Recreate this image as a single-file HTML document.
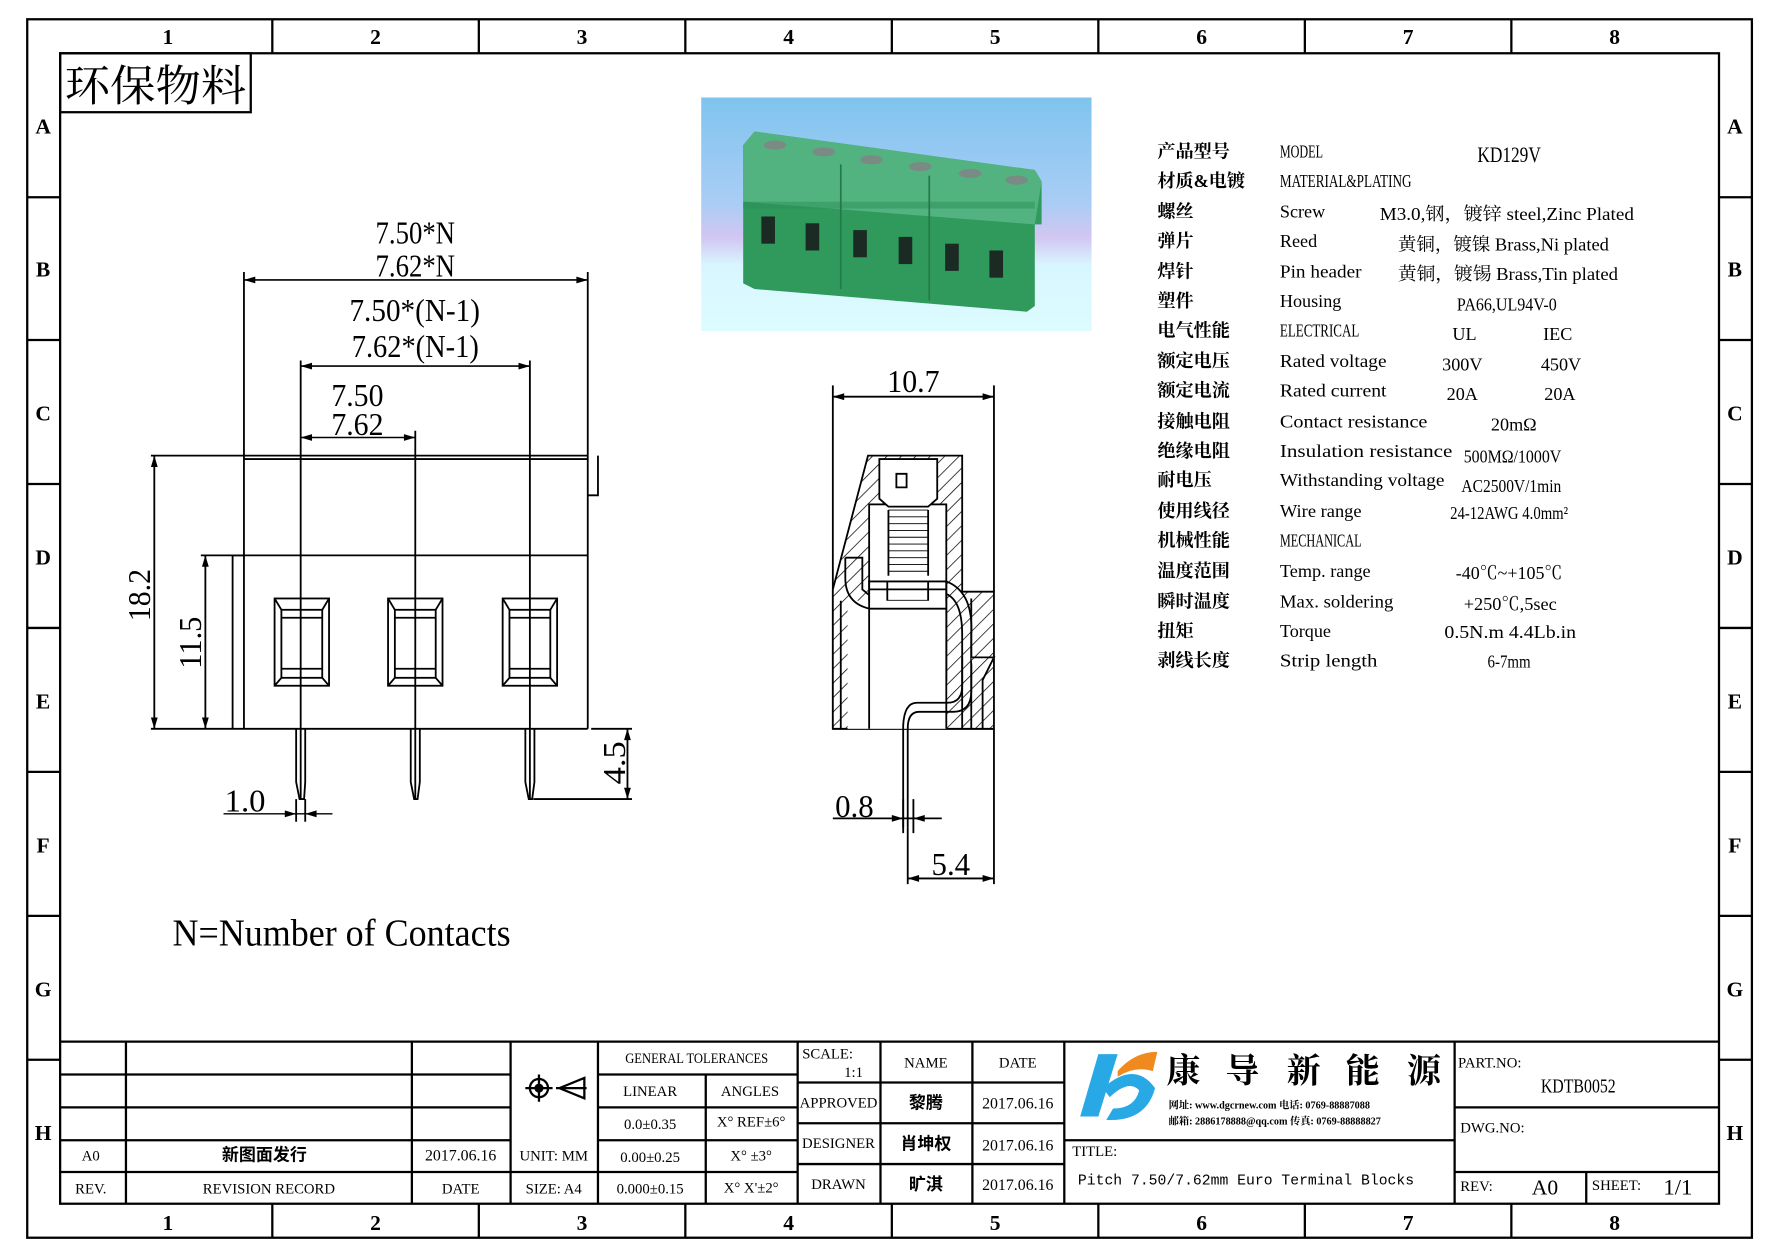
<!DOCTYPE html>
<html><head><meta charset="utf-8"><style>
html,body{margin:0;padding:0;background:#fff;}
svg{display:block;}
text{font-family:"Liberation Serif","Noto Serif CJK SC","Noto Sans CJK SC",serif;fill:#000;}
.cn{font-family:"Liberation Sans","Noto Sans CJK SC",sans-serif;font-weight:bold;}
.m{font-family:"Liberation Mono","Noto Sans CJK SC",monospace;}
</style></head><body>
<svg width="1778" height="1257" viewBox="0 0 1567 1109" preserveAspectRatio="none" xmlns="http://www.w3.org/2000/svg">
<defs>
<pattern id="h" width="9" height="9" patternUnits="userSpaceOnUse" patternTransform="rotate(45)">
<rect width="9" height="9" fill="#fff"/><line x1="0" y1="0" x2="0" y2="9" stroke="#000" stroke-width="1.3"/></pattern>
<linearGradient id="bg" x1="0" y1="0" x2="0" y2="1">
<stop offset="0" stop-color="#7fc4ee"/><stop offset="0.45" stop-color="#a9cdf5"/><stop offset="0.6" stop-color="#d2c6f2"/><stop offset="0.72" stop-color="#d8f6ff"/><stop offset="1" stop-color="#dcfcff"/></linearGradient>
</defs>
<g fill="none" stroke="#000" stroke-width="2">
<rect x="24" y="17" width="1520" height="1075"/>
<rect x="53" y="47" width="1462" height="1015"/>
<path d="M240 17V47M422 17V47M604 17V47M786 17V47M968 17V47M1150 17V47M1332 17V47
M240 1062V1092M422 1062V1092M604 1062V1092M786 1062V1092M968 1062V1092M1150 1062V1092M1332 1062V1092
M24 174H53M24 300H53M24 427H53M24 554H53M24 681H53M24 808H53M24 935H53
M1515 174H1544M1515 300H1544M1515 427H1544M1515 554H1544M1515 681H1544M1515 808H1544M1515 935H1544"/>
<rect x="53" y="47" width="168" height="52"/>
</g>
<g font-size="19" font-weight="bold" text-anchor="middle" class="m">
<text x="148" y="39">1</text><text x="331" y="39">2</text><text x="513" y="39">3</text><text x="695" y="39">4</text><text x="877" y="39">5</text><text x="1059" y="39">6</text><text x="1241" y="39">7</text><text x="1423" y="39">8</text>
<text x="148" y="1085">1</text><text x="331" y="1085">2</text><text x="513" y="1085">3</text><text x="695" y="1085">4</text><text x="877" y="1085">5</text><text x="1059" y="1085">6</text><text x="1241" y="1085">7</text><text x="1423" y="1085">8</text>
<text x="38" y="118">A</text><text x="38" y="244">B</text><text x="38" y="371">C</text><text x="38" y="498">D</text><text x="38" y="625">E</text><text x="38" y="752">F</text><text x="38" y="879">G</text><text x="38" y="1006">H</text>
<text x="1529" y="118">A</text><text x="1529" y="244">B</text><text x="1529" y="371">C</text><text x="1529" y="498">D</text><text x="1529" y="625">E</text><text x="1529" y="752">F</text><text x="1529" y="879">G</text><text x="1529" y="1006">H</text>
</g>
<text x="57" y="89" font-size="38" textLength="160" lengthAdjust="spacingAndGlyphs" style="font-family:'Noto Serif CJK SC',serif">环保物料</text>

<rect x="618" y="86" width="344" height="206" fill="url(#bg)"/>
<polygon points="655,128 665,116 912,150 918,160 918,198 912,198 912,270 905,275 665,255 655,250" fill="#2f9a5c"/>
<polygon points="655,128 665,116 912,150 918,160 912,198 655,178" fill="#52b381"/>
<g fill="#2a8e55"><rect x="655" y="178" width="257" height="6" opacity="0.5"/></g>
<g fill="#1c2a24">
<rect x="671" y="191" width="12" height="24"/><rect x="710" y="197" width="12" height="24"/><rect x="752" y="203" width="12" height="24"/><rect x="792" y="209" width="12" height="24"/><rect x="833" y="215" width="12" height="24"/><rect x="872" y="221" width="12" height="24"/>
</g>
<g fill="#7a8a84"><ellipse cx="683" cy="128" rx="10" ry="4"/><ellipse cx="726" cy="134" rx="10" ry="4"/><ellipse cx="768" cy="141" rx="10" ry="4"/><ellipse cx="811" cy="147" rx="10" ry="4"/><ellipse cx="855" cy="153" rx="10" ry="4"/><ellipse cx="896" cy="159" rx="10" ry="4"/></g>
<path d="M741 145V255M819 155V265" stroke="#237a48" stroke-width="1.5"/>

<g font-size="16">
<g class="cn" font-size="16">
<text x="1020" y="139">产品型号</text><text x="1020" y="165">材质&amp;电镀</text><text x="1020" y="192">螺丝</text><text x="1020" y="218">弹片</text><text x="1020" y="245">焊针</text><text x="1020" y="271">塑件</text><text x="1020" y="297">电气性能</text><text x="1020" y="324">额定电压</text><text x="1020" y="350">额定电流</text><text x="1020" y="377">接触电阻</text><text x="1020" y="403">绝缘电阻</text><text x="1020" y="429">耐电压</text><text x="1020" y="456">使用线径</text><text x="1020" y="482">机械性能</text><text x="1020" y="509">温度范围</text><text x="1020" y="536">瞬时温度</text><text x="1020" y="562">扭矩</text><text x="1020" y="588">剥线长度</text>
</g>
<text x="1128" y="139" textLength="38" lengthAdjust="spacingAndGlyphs">MODEL</text>
<text x="1302" y="143" font-size="20" textLength="56" lengthAdjust="spacingAndGlyphs">KD129V</text>
<text x="1128" y="165" textLength="116" lengthAdjust="spacingAndGlyphs">MATERIAL&amp;PLATING</text>
<text x="1128" y="192">Screw</text><text x="1216" y="194" textLength="224" lengthAdjust="spacingAndGlyphs">M3.0,钢，镀锌 steel,Zinc Plated</text>
<text x="1128" y="218">Reed</text><text x="1232" y="221" textLength="186" lengthAdjust="spacingAndGlyphs">黄铜，镀镍 Brass,Ni plated</text>
<text x="1128" y="245" textLength="72" lengthAdjust="spacingAndGlyphs">Pin header</text><text x="1232" y="247" textLength="194" lengthAdjust="spacingAndGlyphs">黄铜，镀锡 Brass,Tin plated</text>
<text x="1128" y="271">Housing</text><text x="1284" y="274" textLength="88" lengthAdjust="spacingAndGlyphs">PA66,UL94V-0</text>
<text x="1128" y="297" textLength="70" lengthAdjust="spacingAndGlyphs">ELECTRICAL</text><text x="1280" y="300">UL</text><text x="1360" y="300">IEC</text>
<text x="1128" y="324" textLength="94" lengthAdjust="spacingAndGlyphs">Rated voltage</text><text x="1271" y="327">300V</text><text x="1358" y="327">450V</text>
<text x="1128" y="350" textLength="94" lengthAdjust="spacingAndGlyphs">Rated current</text><text x="1275" y="353">20A</text><text x="1361" y="353">20A</text>
<text x="1128" y="377" textLength="130" lengthAdjust="spacingAndGlyphs">Contact resistance</text><text x="1314" y="380">20mΩ</text>
<text x="1128" y="403" textLength="152" lengthAdjust="spacingAndGlyphs">Insulation resistance</text><text x="1290" y="408" textLength="86" lengthAdjust="spacingAndGlyphs">500MΩ/1000V</text>
<text x="1128" y="429" textLength="145" lengthAdjust="spacingAndGlyphs">Withstanding voltage</text><text x="1288" y="434" textLength="88" lengthAdjust="spacingAndGlyphs">AC2500V/1min</text>
<text x="1128" y="456" textLength="72" lengthAdjust="spacingAndGlyphs">Wire range</text><text x="1278" y="458" textLength="104" lengthAdjust="spacingAndGlyphs">24-12AWG 4.0mm²</text>
<text x="1128" y="482" textLength="72" lengthAdjust="spacingAndGlyphs">MECHANICAL</text>
<text x="1128" y="509" textLength="80" lengthAdjust="spacingAndGlyphs">Temp. range</text><text x="1283" y="511" textLength="94" lengthAdjust="spacingAndGlyphs">-40℃~+105℃</text>
<text x="1128" y="536" textLength="100" lengthAdjust="spacingAndGlyphs">Max. soldering</text><text x="1290" y="538" textLength="82" lengthAdjust="spacingAndGlyphs">+250℃,5sec</text>
<text x="1128" y="562">Torque</text><text x="1273" y="563" textLength="116" lengthAdjust="spacingAndGlyphs">0.5N.m  4.4Lb.in</text>
<text x="1128" y="588" textLength="86" lengthAdjust="spacingAndGlyphs">Strip length</text><text x="1311" y="589" textLength="38" lengthAdjust="spacingAndGlyphs">6-7mm</text>
</g>

<g fill="none" stroke="#000" stroke-width="1.6">
<path d="M215 240V643M518 240V402M265 318V705M467 318V705M366 380V705"/>
<path d="M215 247H518M265 323H467M265 386H366" stroke-width="1.4"/>
<path d="M133 402H518M215 405H518M518 402V643M205 490H518M205 490V643M133 643H518M527 402V437H518"/>
<path d="M136 402V643M181 490V643M177 490H215M553 643V705M521 643H557M470 705H557"/>
<path d="M261 643V690L264 705H268L269 690V643M362 643V690L365 705H368L370 690V643M463 643V690L466 705H469L471 690V643"/>
<path d="M197 718H293" stroke-width="1.3"/>
<path d="M261 705V725M269 705V725"/>
<g>
<rect x="242" y="528" width="48" height="77"/><rect x="248" y="538" width="36" height="60"/><path d="M242 528L248 538M290 528L284 538M242 605L248 598M290 605L284 598M248 545H284M248 590H284"/>
<rect x="342" y="528" width="48" height="77"/><rect x="348" y="538" width="36" height="60"/><path d="M342 528L348 538M390 528L384 538M342 605L348 598M390 605L384 598M348 545H384M348 590H384"/>
<rect x="443" y="528" width="48" height="77"/><rect x="449" y="538" width="36" height="60"/><path d="M443 528L449 538M491 528L485 538M443 605L449 598M491 605L485 598M449 545H485M449 590H485"/>
</g>
</g>
<g fill="#000">
<path d="M215 247l10 -3v6zM518 247l-10 -3v6zM265 323l10 -3v6zM467 323l-10 -3v6zM265 386l10 -3v6zM366 386l-10 -3v6z"/>
<path d="M136 402l-3 10h6zM136 643l-3 -10h6zM181 490l-3 10h6zM181 643l-3 -10h6zM553 643l-3 10h6zM553 705l-3 -10h6zM261 718l-10 -3v6zM269 718l10 -3v6z"/>
</g>
<g font-size="28">
<text x="331" y="215" textLength="70" lengthAdjust="spacingAndGlyphs">7.50*N</text>
<text x="331" y="244" textLength="70" lengthAdjust="spacingAndGlyphs">7.62*N</text>
<text x="308" y="283" textLength="115" lengthAdjust="spacingAndGlyphs">7.50*(N-1)</text>
<text x="310" y="315" textLength="112" lengthAdjust="spacingAndGlyphs">7.62*(N-1)</text>
<text x="292" y="358" textLength="46" lengthAdjust="spacingAndGlyphs">7.50</text>
<text x="292" y="384" textLength="46" lengthAdjust="spacingAndGlyphs">7.62</text>
<text transform="translate(132,548) rotate(-90)" textLength="46" lengthAdjust="spacingAndGlyphs">18.2</text>
<text transform="translate(177,590) rotate(-90)" textLength="46" lengthAdjust="spacingAndGlyphs">11.5</text>
<text transform="translate(551,692) rotate(-90)" textLength="38" lengthAdjust="spacingAndGlyphs">4.5</text>
<text x="198" y="716" textLength="36" lengthAdjust="spacingAndGlyphs">1.0</text>
<text x="152" y="834" font-size="34" textLength="298" lengthAdjust="spacingAndGlyphs">N=Number of Contacts</text>
<text x="782" y="346" textLength="46" lengthAdjust="spacingAndGlyphs">10.7</text>
<text x="736" y="721" textLength="34" lengthAdjust="spacingAndGlyphs">0.8</text>
<text x="821" y="772" textLength="34" lengthAdjust="spacingAndGlyphs">5.4</text>
</g>

<g fill="none" stroke="#000" stroke-width="1.6">
<path d="M734 340V643M876 340V522M876 643V780M734 350H876M800 730V780M800 775H876M734 722H830M796 705V735M805 705V735"/>
<path d="M734 643H876"/>
<path d="M734 643V520L765 402H848L848 522H876V643Z" fill="url(#h)"/>
<rect x="766" y="445" width="68" height="68" fill="#fff"/>
<path d="M775 405H826V440L818 447H783L775 440Z" fill="#fff"/>
<path d="M790 418H799V430H790Z"/>
<path d="M783 450H818M783 456H818M783 462H818M783 468H818M783 474H818M783 480H818M783 486H818M783 492H818M783 498H818M783 504H818" stroke-width="0.8"/>
<path d="M783 450V508M818 450V508"/>
<rect x="766" y="513" width="68" height="87" fill="#fff"/>
<path d="M766 520H834M766 588H834M782 513V530H818V513"/>
<rect x="747" y="530" width="87" height="113" fill="#fff" stroke="none"/>
<path d="M745 492H760V520L766 525M745 492V510Q745 532 766 537H834M834 513Q858 522 856 560V610Q856 628 840 628H810Q800 628 800 643V730M834 524Q848 530 848 560V605Q848 620 835 620H808Q797 620 796 640V730"/>
<path d="M766 513V643M834 513V643M741 530V643M856 528V643M848 580V643"/>
<path d="M856 580H876L866 600V643" fill="url(#h)"/>
</g>
<g fill="#000"><path d="M734 350l10 -3v6zM876 350l-10 -3v6zM796 722l-10 -3v6zM805 722l10 -3v6zM800 775l10 -3v6zM876 775l-10 -3v6z"/></g>

<g fill="none" stroke="#000" stroke-width="2">
<path d="M53 919H1515M53 948H450M53 977H450M53 1006H450M53 1034H703M527 948H703M527 977H703M527 1006H703M703 955H938M703 991H938M703 1027H938M938 1006H1282M1282 977H1515M1282 1034H1515"/>
<path d="M111 919V1062M363 919V1062M450 919V1062M527 919V1062M622 948V1062M703 919V1062M776 919V1062M857 919V1062M938 919V1062M1282 919V1062M1398 1034V1062"/>
</g>
<g font-size="13" text-anchor="middle">
<text x="614" y="938" textLength="126" lengthAdjust="spacingAndGlyphs">GENERAL TOLERANCES</text>
<text x="573" y="967">LINEAR</text><text x="661" y="967">ANGLES</text>
<text x="573" y="996">0.0±0.35</text><text x="662" y="994">X° REF±6°</text>
<text x="573" y="1025">0.00±0.25</text><text x="662" y="1024">X° ±3°</text>
<text x="573" y="1053">0.000±0.15</text><text x="662" y="1052">X° X'±2°</text>
<text x="488" y="1024">UNIT: MM</text><text x="488" y="1053">SIZE: A4</text>
<text x="406" y="1024" font-size="14">2017.06.16</text><text x="406" y="1053">DATE</text>
<text x="80" y="1024">A0</text><text x="80" y="1053">REV.</text>
<text x="237" y="1053">REVISION RECORD</text>
<text x="233" y="1024" class="cn" font-weight="normal" font-size="15">新图面发行</text>
<text x="816" y="942">NAME</text><text x="897" y="942">DATE</text>
<text x="739" y="977">APPROVED</text><text x="739" y="1013">DESIGNER</text><text x="739" y="1049">DRAWN</text>
<text x="816" y="978" class="cn" font-size="15">黎腾</text><text x="816" y="1014" class="cn" font-size="15">肖坤权</text><text x="816" y="1050" class="cn" font-size="15">旷淇</text>
<text x="897" y="978" font-size="14">2017.06.16</text><text x="897" y="1015" font-size="14">2017.06.16</text><text x="897" y="1050" font-size="14">2017.06.16</text>
</g>
<g font-size="13"><text x="707" y="934">SCALE:</text><text x="744" y="950">1:1</text>
<text x="945" y="1020">TITLE:</text>
<text x="950" y="1045" class="m" font-size="13">Pitch 7.50/7.62mm Euro Terminal Blocks</text>
<text x="1285" y="942">PART.NO:</text><text x="1287" y="999">DWG.NO:</text>
<text x="1287" y="1051">REV:</text><text x="1403" y="1050">SHEET:</text></g>
<text x="1358" y="964" font-size="18" textLength="66" lengthAdjust="spacingAndGlyphs">KDTB0052</text>
<text x="1350" y="1054" font-size="19">A0</text><text x="1466" y="1054" font-size="20">1/1</text>
<g fill="none" stroke="#000" stroke-width="2"><circle cx="475" cy="960" r="8"/><circle cx="475" cy="960" r="3" fill="#000"/><path d="M463 960H487M475 948V972M493 960L515 951V969Z M490 960H517"/></g>
<path d="M968 930L985 930L968 985L952 985Z" fill="#29a8e6"/>
<path d="M972 960Q1000 935 1018 960Q1010 990 975 988L981 978Q1000 978 1004 962Q995 952 978 968Z" fill="#29a8e6"/>
<path d="M985 945Q1000 928 1020 928L1016 945Q1000 940 985 950Z" fill="#f08a1e"/>
<g class="cn" font-size="30" font-weight="normal"><text x="1028" y="955">康</text><text x="1080" y="955">导</text><text x="1134" y="955">新</text><text x="1186" y="955">能</text><text x="1240" y="955">源</text></g>
<g font-size="9" font-weight="bold" class="cn"><text x="1030" y="978">网址: www.dgcrnew.com  电话: 0769-88887088</text><text x="1030" y="992">邮箱: 2886178888@qq.com 传真: 0769-88888827</text></g>
</svg>
</body></html>
